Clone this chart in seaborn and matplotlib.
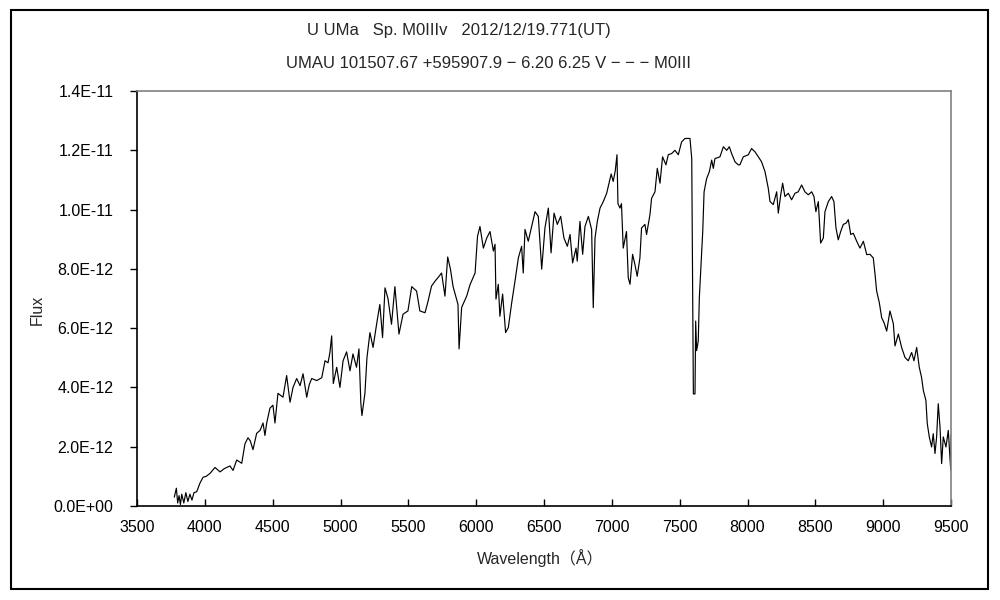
import matplotlib
matplotlib.use("Agg")
import matplotlib.pyplot as plt
import matplotlib.ticker as mticker
from matplotlib.patches import Rectangle
import pandas as pd
import seaborn as sns

# spectrum (flux in units of 1E-12)
wavelength = [
    3775, 3790, 3800, 3810, 3820, 3830, 3845, 3860, 3875, 3890, 3905, 3920, 3940, 3964, 3987,
    4010, 4038, 4075, 4112, 4140, 4161, 4185, 4208, 4235, 4272, 4296, 4318, 4335, 4355, 4382,
    4407, 4429, 4443, 4456, 4480, 4502, 4517, 4539, 4576, 4603, 4628, 4650, 4677, 4702, 4724,
    4751, 4770, 4788, 4825, 4862, 4886, 4908, 4922, 4935, 4947, 4972, 4996, 5019, 5045, 5070,
    5092, 5118, 5136, 5150, 5158, 5180, 5195, 5217, 5240, 5266, 5290, 5310, 5328, 5350, 5376,
    5401, 5431, 5461, 5497, 5525, 5561, 5585, 5623, 5645, 5671, 5696, 5718, 5745, 5770, 5790,
    5810, 5830, 5866, 5874, 5893, 5930, 5955, 5992, 6010, 6028, 6053, 6078, 6102, 6127, 6139,
    6146, 6163, 6175, 6195, 6217, 6237, 6262, 6286, 6311, 6335, 6347, 6360, 6384, 6409, 6434,
    6458, 6483, 6507, 6532, 6552, 6574, 6598, 6623, 6647, 6672, 6692, 6711, 6736, 6745, 6765,
    6785, 6802, 6827, 6851, 6863, 6876, 6893, 6913, 6937, 6962, 6980, 6995, 7010, 7025, 7038,
    7045, 7060, 7071, 7084, 7108, 7121, 7134, 7153, 7170, 7187, 7207, 7219, 7244, 7256, 7281,
    7293, 7318, 7335, 7355, 7374, 7399, 7416, 7441, 7465, 7490, 7514, 7539, 7564, 7576, 7589,
    7596, 7601, 7613, 7618, 7625, 7637, 7645, 7655, 7670, 7680, 7699, 7719, 7736, 7748, 7760,
    7797, 7822, 7847, 7866, 7883, 7908, 7932, 7944, 7969, 8006, 8030, 8055, 8080, 8104, 8129,
    8153, 8166, 8190, 8215, 8227, 8245, 8259, 8276, 8301, 8325, 8350, 8374, 8399, 8423, 8448,
    8473, 8490, 8504, 8522, 8539, 8559, 8571, 8596, 8620, 8637, 8652, 8669, 8687, 8706, 8726,
    8743, 8761, 8780, 8805, 8829, 8854, 8879, 8903, 8927, 8940, 8952, 8972, 8989, 9006, 9026,
    9050, 9075, 9087, 9112, 9136, 9161, 9185, 9210, 9227, 9247, 9266, 9283, 9296, 9315, 9325,
    9340, 9357, 9369, 9382, 9394, 9406, 9419, 9431, 9443, 9463, 9480, 9498, 9500,
]
flux_e12 = [
    0.30, 0.60, 0.10, 0.35, 0.05, 0.40, 0.10, 0.45, 0.15, 0.40, 0.20, 0.45, 0.48, 0.77, 0.97,
    1.00, 1.10, 1.30, 1.15, 1.25, 1.30, 1.35, 1.20, 1.55, 1.44, 2.10, 2.30, 2.20, 1.90, 2.45,
    2.55, 2.80, 2.38, 2.80, 3.30, 3.40, 2.80, 3.80, 3.67, 4.40, 3.50, 4.00, 4.30, 4.06, 4.46,
    3.67, 4.10, 4.30, 4.23, 4.33, 4.90, 4.83, 5.18, 5.74, 4.13, 4.68, 4.00, 4.90, 5.20, 4.56,
    5.13, 4.68, 5.30, 3.46, 3.05, 3.80, 5.00, 5.85, 5.35, 6.13, 6.80, 5.68, 7.36, 7.00, 6.13,
    7.40, 5.80, 6.47, 6.58, 7.40, 7.25, 6.58, 6.52, 6.90, 7.42, 7.58, 7.70, 7.86, 7.08, 8.40,
    8.00, 7.40, 6.80, 5.30, 6.70, 7.08, 7.47, 7.86, 9.10, 9.43, 8.70, 9.04, 9.26, 8.60, 8.83,
    6.98, 7.48, 6.40, 7.15, 5.85, 6.02, 6.86, 7.58, 8.37, 8.76, 7.86, 9.33, 8.93, 9.43, 9.93,
    9.77, 7.99, 9.38, 10.05, 8.54, 9.88, 9.50, 9.77, 9.04, 8.76, 9.16, 8.20, 8.70, 8.26, 9.60,
    8.49, 9.43, 9.77, 9.33, 6.69, 9.04, 9.60, 10.05, 10.27, 10.55, 10.90, 11.20, 10.95, 11.30, 11.85,
    10.20, 10.05, 10.20, 8.70, 9.26, 7.70, 7.48, 8.49, 8.15, 7.75, 8.37, 9.38, 9.50, 9.16, 9.83,
    10.38, 10.60, 11.39, 10.89, 11.78, 11.51, 11.85, 11.89, 12.00, 11.85, 12.28, 12.40, 12.40, 12.40, 11.72,
    7.25, 3.78, 3.78, 6.24, 5.24, 5.57, 7.03, 7.92, 9.26, 10.60, 11.05, 11.28, 11.67, 11.39, 11.72,
    11.78, 12.12, 12.00, 12.12, 11.89, 11.61, 11.51, 11.51, 11.78, 11.85, 12.06, 11.95, 11.78, 11.61, 11.28,
    10.72, 10.27, 10.17, 10.60, 9.88, 10.50, 10.89, 10.44, 10.55, 10.33, 10.55, 10.60, 10.83, 10.60, 10.50,
    10.60, 10.44, 9.93, 10.27, 8.87, 9.04, 9.93, 10.27, 10.44, 10.27, 9.38, 8.98, 9.26, 9.50, 9.54,
    9.66, 9.16, 9.20, 8.93, 8.70, 8.93, 8.48, 8.49, 8.37, 7.82, 7.25, 6.85, 6.35, 6.19, 5.90,
    6.58, 6.15, 5.40, 5.80, 5.35, 5.01, 4.90, 5.18, 4.90, 5.35, 4.68, 4.34, 3.90, 3.56, 2.78,
    2.33, 1.99, 2.44, 1.77, 2.33, 3.45, 2.66, 1.43, 2.33, 1.99, 2.55, 1.21, 2.40,
]

title_line1 = "U UMa   Sp. M0IIIv   2012/12/19.771(UT)"
title_line2 = "UMAU 101507.67 +595907.9 − 6.20 6.25 V − − − M0III"
x_ticks = list(range(3500, 9501, 500))
y_ticks = [0, 2e-12, 4e-12, 6e-12, 8e-12, 1e-11, 1.2e-11, 1.4e-11]

df = pd.DataFrame({"wavelength": wavelength, "flux": [f * 1e-12 for f in flux_e12]})

sns.set_style("white")
plt.rcParams["font.family"] = ["Liberation Sans", "Noto Sans CJK JP", "DejaVu Sans"]

fig = plt.figure(figsize=(10, 6), dpi=100)
ax = fig.add_axes([0.137, 0.1567, 0.814, 0.6916])

sns.lineplot(data=df, x="wavelength", y="flux", ax=ax, color="black", linewidth=0.85,
             estimator=None, sort=False)

ax.set_xlim(3500, 9500)
ax.set_ylim(0, 1.4e-11)
ax.set_xticks(x_ticks)
ax.set_yticks(y_ticks)
ax.yaxis.set_major_formatter(mticker.FuncFormatter(lambda v, p: f"{v:.1E}"))
ax.set_xlabel("")
ax.set_ylabel("")

ax.tick_params(axis="x", direction="in", length=5, width=1, colors="black", labelsize=11.5, pad=10, top=False)
ax.tick_params(axis="y", direction="out", length=5, width=1, colors="black", labelsize=11.5, pad=12, left=True)
ax.xaxis.set_ticks_position("bottom")
ax.yaxis.set_ticks_position("left")

for side in ["left", "bottom"]:
    ax.spines[side].set_color("black")
    ax.spines[side].set_linewidth(1.2)
for side in ["top", "right"]:
    ax.spines[side].set_color("#808080")
    ax.spines[side].set_linewidth(1.2)

fig.text(0.459, 1 - 31 / 600, title_line1, ha="center", va="center", fontsize=12)
fig.text(0.488, 1 - 63 / 600, title_line2, ha="center", va="center", fontsize=12)
fig.text(0.540, 1 - 558 / 600, "Wavelength（Å）", ha="center", va="center", fontsize=11.5)
fig.text(0.037, 1 - 310 / 600, "Flux", ha="center", va="center", rotation=90, fontsize=11.5)

# outer chart frame
fig.patches.append(Rectangle((0.011, 1 - 589 / 600), 0.977, 579 / 600, transform=fig.transFigure,
                             fill=False, edgecolor="black", linewidth=1.5))

fig.savefig("out.png", dpi=100, facecolor="white")
